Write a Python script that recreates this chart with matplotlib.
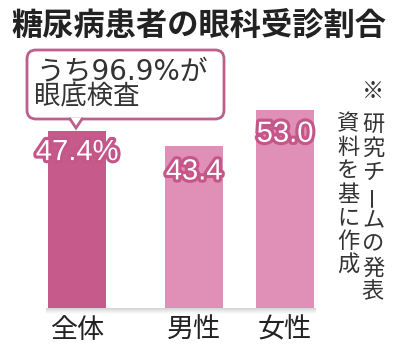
import matplotlib
matplotlib.use("Agg")
import matplotlib.pyplot as plt
import matplotlib.patheffects as pe
from matplotlib.patches import FancyBboxPatch, Polygon
from matplotlib.lines import Line2D
from matplotlib.colors import LinearSegmentedColormap
import numpy as np

plt.rcParams['font.family'] = ['Noto Sans CJK JP', 'DejaVu Sans']

# ---- data ----
categories = ['全体', '男性', '女性']
values = [47.4, 43.4, 53.0]
value_labels = ['47.4%', '43.4', '53.0']
title = '糖尿病患者の眼科受診割合'
callout_lines = ['うち96.9%が', '眼底検査']
note_right = '※研究チームの発表'
note_left = '資料を基に作成'

# ---- layout (pixels) ----
W, H = 400, 358
bar_x = [77, 194, 285]
bar_w = 58
base_px = 308
px_per_unit = 3.73
bar_colors = ['#c65a8b', '#e08fb6', '#e08fb6']
stroke_color = '#c5568a'

fig = plt.figure(figsize=(W / 100, H / 100), dpi=100)
fig.patch.set_facecolor('white')

ax = fig.add_axes([0, 0, 1, 1])
ax.set_xlim(0, W)
ax.set_ylim((base_px - H) / px_per_unit, base_px / px_per_unit)
ax.axis('off')

ax.bar(bar_x, values, width=bar_w, color=bar_colors, zorder=2)

# grey baseline shadow
grad = np.linspace(0, 1, 20).reshape(-1, 1)
cm = LinearSegmentedColormap.from_list('g', ['#d4d4d4', '#ffffff'])
ax.imshow(grad, cmap=cm, aspect='auto',
          extent=[bar_x[0] - bar_w / 2 - 2, bar_x[-1] + bar_w / 2 + 2, -6 / px_per_unit, 0],
          zorder=1, interpolation='bilinear')

# value labels
label_offsets = [5.6, 6.8, 6.3]
for x, v, lab, off in zip(bar_x, values, value_labels, label_offsets):
    ax.text(x, v - off, lab, ha='center', va='center', fontsize=21,
            family=['Liberation Sans', 'DejaVu Sans'], color='white', zorder=5,
            path_effects=[pe.withStroke(linewidth=4.5, foreground=stroke_color)])

# category labels
for x, c in zip(bar_x, categories):
    ax.text(x, (base_px - 330) / px_per_unit, c, ha='center', va='center',
            fontsize=19.5, color='#222222')

# overlay axes in pixel coords
ov = fig.add_axes([0, 0, 1, 1])
ov.set_xlim(0, W)
ov.set_ylim(H, 0)
ov.axis('off')
ov.patch.set_alpha(0)

ov.text(199, 26, title, ha='center', va='center', fontsize=22.5,
        weight='bold', color='#222222')

# callout box
box_col = '#bd5f8c'
box = FancyBboxPatch((27, 50), 197, 69, boxstyle='round,pad=0,rounding_size=9',
                     facecolor='white', edgecolor=box_col, linewidth=2, zorder=3)
ov.add_patch(box)
tri = Polygon([(70, 117.5), (76, 127), (82, 117.5)], closed=True,
              facecolor='white', edgecolor='none', zorder=4)
ov.add_patch(tri)
ov.add_line(Line2D([70, 76, 82], [119, 128, 119], color=box_col, linewidth=2,
                   zorder=5, solid_joinstyle='miter'))
ov.text(36, 71, callout_lines[0], ha='left', va='center', fontsize=20,
        family=['DejaVu Sans', 'Noto Sans CJK JP'], color='#333333', zorder=6)
ov.text(34, 97, callout_lines[1], ha='left', va='center', fontsize=19,
        color='#333333', zorder=6)

# vertical notes
def vtext(chars, x, y0, pitch, first_gap=None):
    y = y0
    for i, ch in enumerate(chars):
        rot = 90 if ch == 'ー' else 0
        ov.text(x, y, ch, ha='center', va='center', fontsize=16,
                color='#333333', rotation=rot, rotation_mode='anchor')
        if i == 0 and first_gap is not None:
            y += first_gap
        else:
            y += pitch

vtext(note_right, 373, 92, 24, first_gap=32)
vtext(note_left, 348, 124, 23.5)

fig.savefig('out.png', dpi=100, facecolor='white')
